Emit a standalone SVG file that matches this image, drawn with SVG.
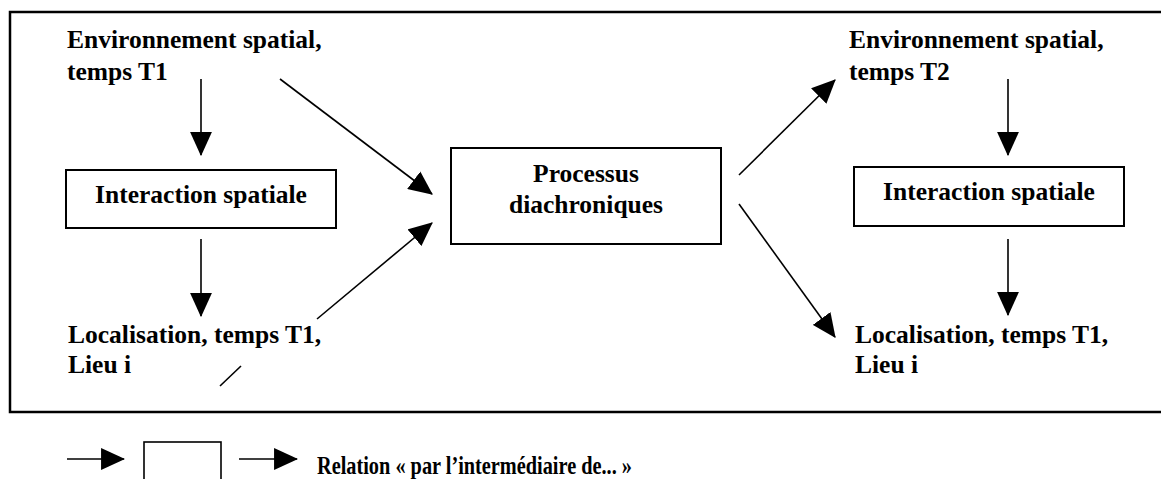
<svg xmlns="http://www.w3.org/2000/svg" width="1161" height="479" viewBox="0 0 1161 479">
<style>
text{font-family:"Liberation Serif","Times New Roman",serif;font-weight:bold;font-size:25.5px;fill:#000}
.c{text-anchor:middle}
.box{fill:#fff;stroke:#000;stroke-width:2}
.ln{stroke:#000;stroke-width:1.6;fill:none}
.ar{marker-end:url(#ah)}
</style>
<defs>
<marker id="ah" markerUnits="userSpaceOnUse" markerWidth="24" markerHeight="22" viewBox="0 0 22 20" refX="21" refY="10" orient="auto">
<path d="M0,0 L22,10 L0,20 z" fill="#000"/>
</marker>
</defs>
<rect x="10" y="12" width="1160" height="400" fill="none" stroke="#000" stroke-width="2.5"/>
<g id="env-t1"><text x="67" y="48">Environnement spatial,</text><text x="67" y="80">temps T1</text></g>
<g id="inter-left"><rect class="box" x="66" y="170" width="270" height="58"/><text class="c" x="201" y="203">Interaction spatiale</text></g>
<g id="loc-left"><text x="68" y="343">Localisation, temps T1,</text><text x="68" y="373">Lieu i</text></g>
<g id="processus"><rect class="box" x="451" y="148" width="270" height="96"/><text class="c" x="586" y="182">Processus</text><text class="c" x="586" y="213">diachroniques</text></g>
<g id="env-t2"><text x="849" y="48">Environnement spatial,</text><text x="849" y="80">temps T2</text></g>
<g id="inter-right"><rect class="box" x="854" y="167" width="270" height="59"/><text class="c" x="989" y="200">Interaction spatiale</text></g>
<g id="loc-right"><text x="855" y="343">Localisation, temps T1,</text><text x="855" y="373">Lieu i</text></g>
<g id="connectors">
<line class="ln ar" x1="201" y1="79" x2="201" y2="155"/>
<line class="ln ar" x1="201" y1="239" x2="201" y2="316"/>
<line class="ln ar" x1="280" y1="79" x2="432" y2="194"/>
<line class="ln ar" x1="317" y1="319" x2="432" y2="223"/>
<line class="ln" x1="220" y1="386" x2="241" y2="366"/>
<line class="ln ar" x1="739" y1="175" x2="835" y2="80"/>
<line class="ln ar" x1="739" y1="204" x2="835" y2="337"/>
<line class="ln ar" x1="1008" y1="79" x2="1008" y2="155"/>
<line class="ln ar" x1="1008" y1="239" x2="1008" y2="315"/>
</g>
<g id="legend">
<line class="ln ar" x1="67" y1="459" x2="124" y2="459"/>
<rect x="144" y="442" width="77" height="50" fill="#fff" stroke="#000" stroke-width="1.6"/>
<line class="ln ar" x1="239" y1="459" x2="297" y2="459"/>
<text x="317" y="474" style="font-size:25px" textLength="315" lengthAdjust="spacingAndGlyphs">Relation « par l’intermédiaire de... »</text>
</g>
</svg>
